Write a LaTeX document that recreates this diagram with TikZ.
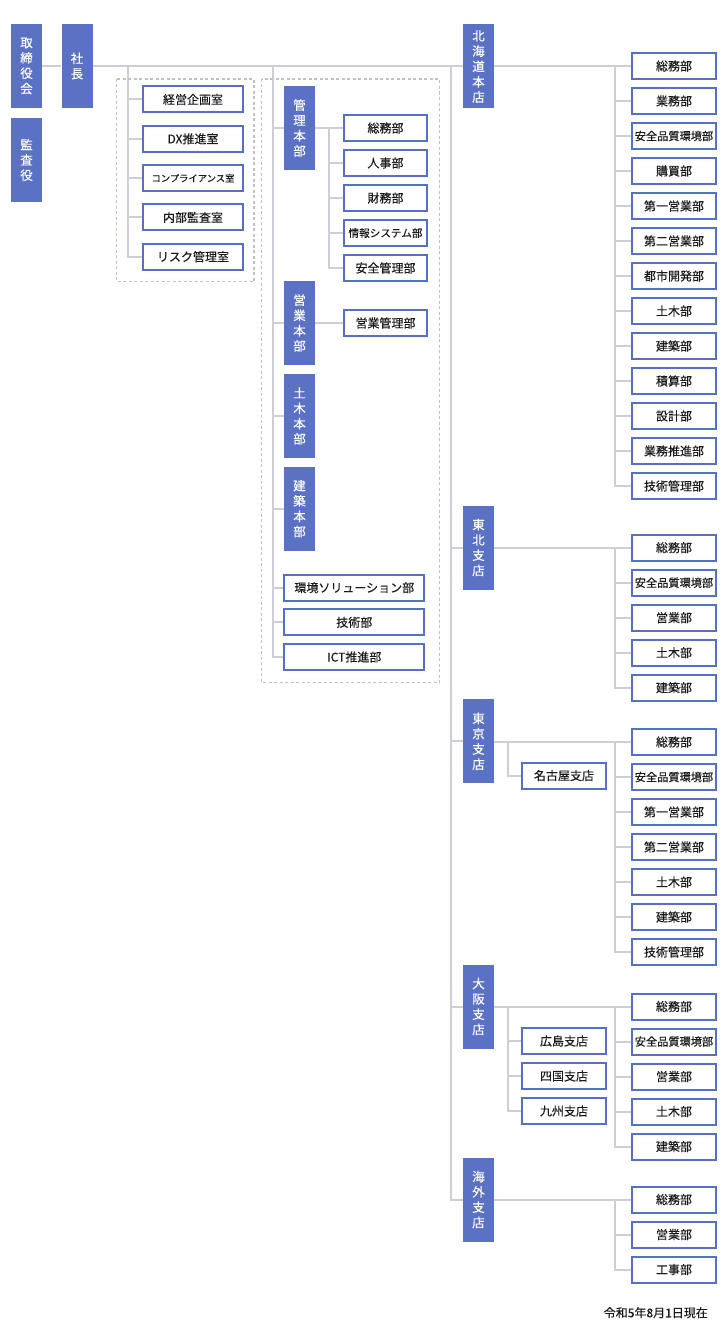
\documentclass[tikz,border=0pt]{standalone}
\usepackage{fontspec}
\setmainfont{Noto Sans CJK JP}[FakeBold=0.35]
\usetikzlibrary{backgrounds,calc}
\definecolor{boxblue}{HTML}{5B72C4}
\definecolor{bordblue}{HTML}{5571C6}
\definecolor{lgray}{HTML}{CDCED6}
\definecolor{dgray}{HTML}{C2C2C2}
\definecolor{txt}{HTML}{1A1A1A}
\newcommand\anzen{{\fontsize{11.2}{13}\selectfont 安全品質環境部}}
\begin{document}
\begin{tikzpicture}[x=1pt,y=-1pt,
  conn/.style={draw=lgray,line width=2pt},
  dept/.style={draw=bordblue,line width=2pt,fill=white,minimum width=83.5pt,minimum height=26pt,inner sep=0pt,font=\fontsize{12}{14}\selectfont,text=txt},
  vbox/.style={fill=boxblue,minimum width=31pt,minimum height=84pt,inner sep=0pt,text=white,align=center,font=\fontsize{12.5}{15.3}\selectfont},
  grp/.style={draw=dgray,line width=1.4pt,dash pattern=on 3pt off 2.5pt}]
\useasboundingbox (0,0) rectangle (724,1335);

% top management
\node[vbox] (tori) at (26.5,66) {取\\締\\役\\会};
\node[vbox] (kansa) at (26.5,160) {監\\査\\役};
\node[vbox] (shacho) at (77,66) {社\\長};

% group 1
\draw[grp] (116.7,79) rectangle (254,281.7);
\node[dept,minimum width=100pt] (a1) at (193,99.5) {経営企画室};
\node[dept,minimum width=100pt] (a2) at (193,138.8) {DX推進室};
\node[dept,minimum width=100pt,font=\fontsize{9.3}{11}\selectfont] (a3) at (193,178.1) {コンプライアンス室};
\node[dept,minimum width=100pt] (a4) at (193,217.4) {内部監査室};
\node[dept,minimum width=100pt] (a5) at (193,256.7) {リスク管理室};

% group 2
\draw[grp] (261.7,79) rectangle (439.3,682.7);
\node[vbox] (b1) at (299.5,128) {管\\理\\本\\部};
\node[dept] (b11) at (385.5,128) {総務部};
\node[dept] (b12) at (385.5,163) {人事部};
\node[dept] (b13) at (385.5,198) {財務部};
\node[dept,font=\fontsize{10.6}{12}\selectfont] (b14) at (385.5,233) {情報システム部};
\node[dept] (b15) at (385.5,268) {安全管理部};
\node[vbox] (b2) at (299.5,323) {営\\業\\本\\部};
\node[dept] (b21) at (385.5,323) {営業管理部};
\node[vbox] (b3) at (299.5,416) {土\\木\\本\\部};
\node[vbox] (b4) at (299.5,508.7) {建\\築\\本\\部};
\node[dept,minimum width=140pt] (b5) at (354.3,587.7) {環境ソリューション部};
\node[dept,minimum width=140pt] (b6) at (354.3,622.3) {技術部};
\node[dept,minimum width=140pt] (b7) at (354.3,657) {ICT推進部};

% branches
\node[vbox] (hq) at (478.5,66.5) {北\\海\\道\\本\\店};
\node[vbox] (tohoku) at (478.5,547.5) {東\\北\\支\\店};
\node[vbox] (tokyo) at (478.5,741.3) {東\\京\\支\\店};
\node[vbox] (osaka) at (478.5,1006.5) {大\\阪\\支\\店};
\node[vbox] (kaigai) at (478.5,1199.5) {海\\外\\支\\店};

\foreach \t [count=\i] in {総務部,業務部,\anzen,購買部,第一営業部,第二営業部,都市開発部,土木部,建築部,積算部,設計部,業務推進部,技術管理部}
  \node[dept] (h\i) at (674,31+35*\i) {\t};
\foreach \t [count=\i] in {総務部,\anzen,営業部,土木部,建築部}
  \node[dept] (n\i) at (674,512.7+35*\i) {\t};
\foreach \t [count=\i] in {総務部,\anzen,第一営業部,第二営業部,土木部,建築部,技術管理部}
  \node[dept] (k\i) at (674,707+35*\i) {\t};
\foreach \t [count=\i] in {総務部,\anzen,営業部,土木部,建築部}
  \node[dept] (o\i) at (674,971.5+35*\i) {\t};
\foreach \t [count=\i] in {総務部,営業部,工事部}
  \node[dept] (g\i) at (674,1164.5+35*\i) {\t};

\node[dept] (nagoya) at (564,775.5) {名古屋支店};
\node[dept] (hiroshima) at (564,1041) {広島支店};
\node[dept] (shikoku) at (564,1076) {四国支店};
\node[dept] (kyushu) at (564,1111) {九州支店};

\node[font=\fontsize{12}{14}\selectfont,text=txt,anchor=east,inner sep=0pt] (date) at (708,1312.7) {令和5年8月1日現在};

\begin{scope}[on background layer]
  \draw[conn] (tori.east) -- (shacho.west);
  \draw[conn] (shacho.east) -- (shacho.east -| hq.west);
  \draw[conn] (hq.east |- h1.west) -- (h1.west);
  % group 1
  \coordinate (t1) at (127.5,66);
  \draw[conn] (t1) |- (a5.west);
  \foreach \n in {a1,a2,a3,a4} \draw[conn] (t1 |- \n.west) -- (\n.west);
  % group 2
  \coordinate (t2) at (272.5,66);
  \draw[conn] (t2) |- (b7.west);
  \foreach \n in {b1,b2,b3,b4,b5,b6} \draw[conn] (t2 |- \n.west) -- (\n.west);
  \coordinate (t3) at (329,128);
  \draw[conn] (b1.east) -- (b11.west);
  \draw[conn] (t3) |- (b15.west);
  \foreach \n in {b12,b13,b14} \draw[conn] (t3 |- \n.west) -- (\n.west);
  \draw[conn] (b2.east) -- (b21.west);
  % main trunk
  \coordinate (t4) at (451,66);
  \draw[conn] (t4) |- (kaigai.west);
  \foreach \n in {tohoku,tokyo,osaka} \draw[conn] (t4 |- \n.west) -- (\n.west);
  % department trunks
  \coordinate (th) at ($(h1.west)+(-16,0)$);
  \draw[conn] (th) |- (h13.west);
  \foreach \i in {2,...,12} \draw[conn] (th |- h\i.west) -- (h\i.west);
  \draw[conn] (tohoku.east |- n1.west) -- (n1.west);
  \coordinate (tn) at ($(n1.west)+(-16,0)$);
  \draw[conn] (tn) |- (n5.west);
  \foreach \i in {2,3,4} \draw[conn] (tn |- n\i.west) -- (n\i.west);
  \draw[conn] (tokyo.east |- k1.west) -- (k1.west);
  \coordinate (tk) at ($(k1.west)+(-16,0)$);
  \draw[conn] (tk) |- (k7.west);
  \foreach \i in {2,...,6} \draw[conn] (tk |- k\i.west) -- (k\i.west);
  \draw[conn] (osaka.east |- o1.west) -- (o1.west);
  \coordinate (to) at ($(o1.west)+(-16,0)$);
  \draw[conn] (to) |- (o5.west);
  \foreach \i in {2,3,4} \draw[conn] (to |- o\i.west) -- (o\i.west);
  \draw[conn] (kaigai.east |- g1.west) -- (g1.west);
  \coordinate (tg) at ($(g1.west)+(-16,0)$);
  \draw[conn] (tg) |- (g3.west);
  \draw[conn] (tg |- g2.west) -- (g2.west);
  % sub-branches
  \coordinate (sk) at (507.7,742);
  \draw[conn] (sk) |- (nagoya.west);
  \coordinate (so) at (507.7,1006.5);
  \draw[conn] (so) |- (kyushu.west);
  \foreach \n in {hiroshima,shikoku} \draw[conn] (so |- \n.west) -- (\n.west);
\end{scope}
\end{tikzpicture}
\end{document}
